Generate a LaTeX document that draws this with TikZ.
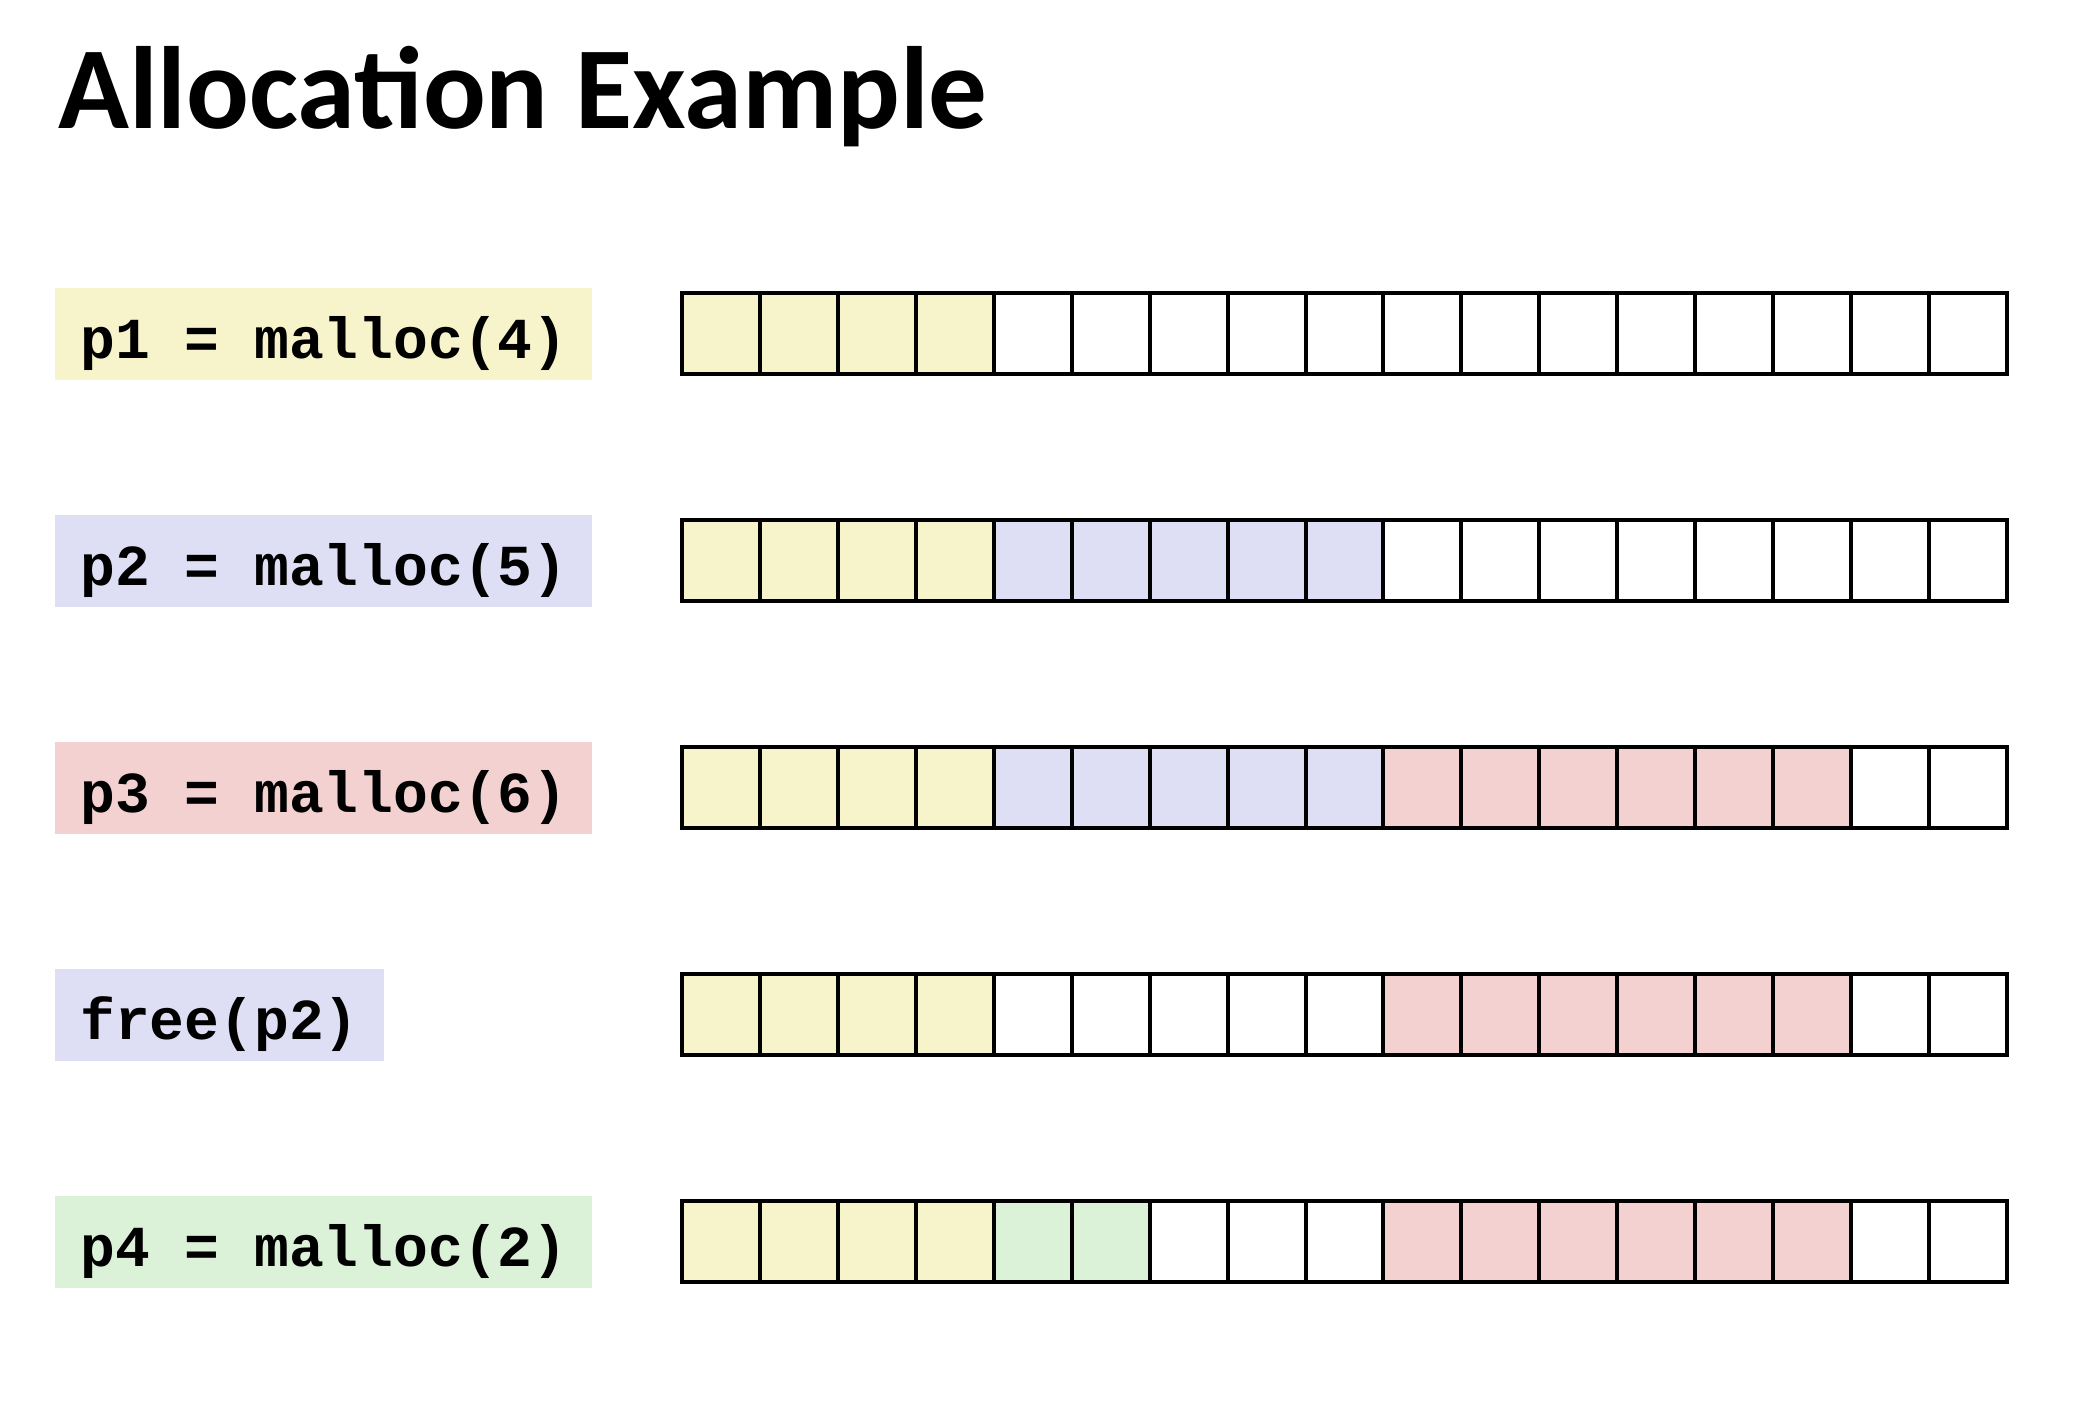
\documentclass[tikz,border=0pt]{standalone}
\usepackage{fontspec}
\setmainfont{Carlito}
\setmonofont{Liberation Mono}
\usetikzlibrary{positioning}
\definecolor{ylw}{HTML}{F7F4CB}
\definecolor{lav}{HTML}{DEDEF5}
\definecolor{pnk}{HTML}{F4D1D1}
\definecolor{grn}{HTML}{DBF2D8}
\tikzset{lbl/.style={anchor=west,inner xsep=25pt,minimum height=92pt,text height=49pt,text depth=0pt,font=\fontsize{58}{58}\selectfont\ttfamily\bfseries}, memcell/.style={draw=black,line width=4pt}}
\newcommand\memrow[2]{\foreach \f [count=\i from 0] in {#2}{\draw[memcell,fill=\f](682+\i*77.94,#1) rectangle ++(77.94,81);}}

\begin{document}
\begin{tikzpicture}[x=1pt,y=-1pt]
\fill[white](0,0) rectangle (2090,1424);
\node[anchor=base west,inner sep=0pt,font=\fontsize{117}{117}\selectfont\bfseries](title) at (58,128){Allocation Example};
\node[lbl,fill=ylw](l1) at (55,333.5){p1 = malloc(4)};
\node[lbl,fill=lav](l2) at (55,560.5){p2 = malloc(5)};
\node[lbl,fill=pnk](l3) at (55,787.5){p3 = malloc(6)};
\node[lbl,fill=lav](l4) at (55,1014.5){free(p2)};
\node[lbl,fill=grn](l5) at (55,1241.5){p4 = malloc(2)};
\memrow{293}{ylw,ylw,ylw,ylw,white,white,white,white,white,white,white,white,white,white,white,white,white}
\memrow{520}{ylw,ylw,ylw,ylw,lav,lav,lav,lav,lav,white,white,white,white,white,white,white,white}
\memrow{747}{ylw,ylw,ylw,ylw,lav,lav,lav,lav,lav,pnk,pnk,pnk,pnk,pnk,pnk,white,white}
\memrow{974}{ylw,ylw,ylw,ylw,white,white,white,white,white,pnk,pnk,pnk,pnk,pnk,pnk,white,white}
\memrow{1201}{ylw,ylw,ylw,ylw,grn,grn,white,white,white,pnk,pnk,pnk,pnk,pnk,pnk,white,white}
\end{tikzpicture}
\end{document}
